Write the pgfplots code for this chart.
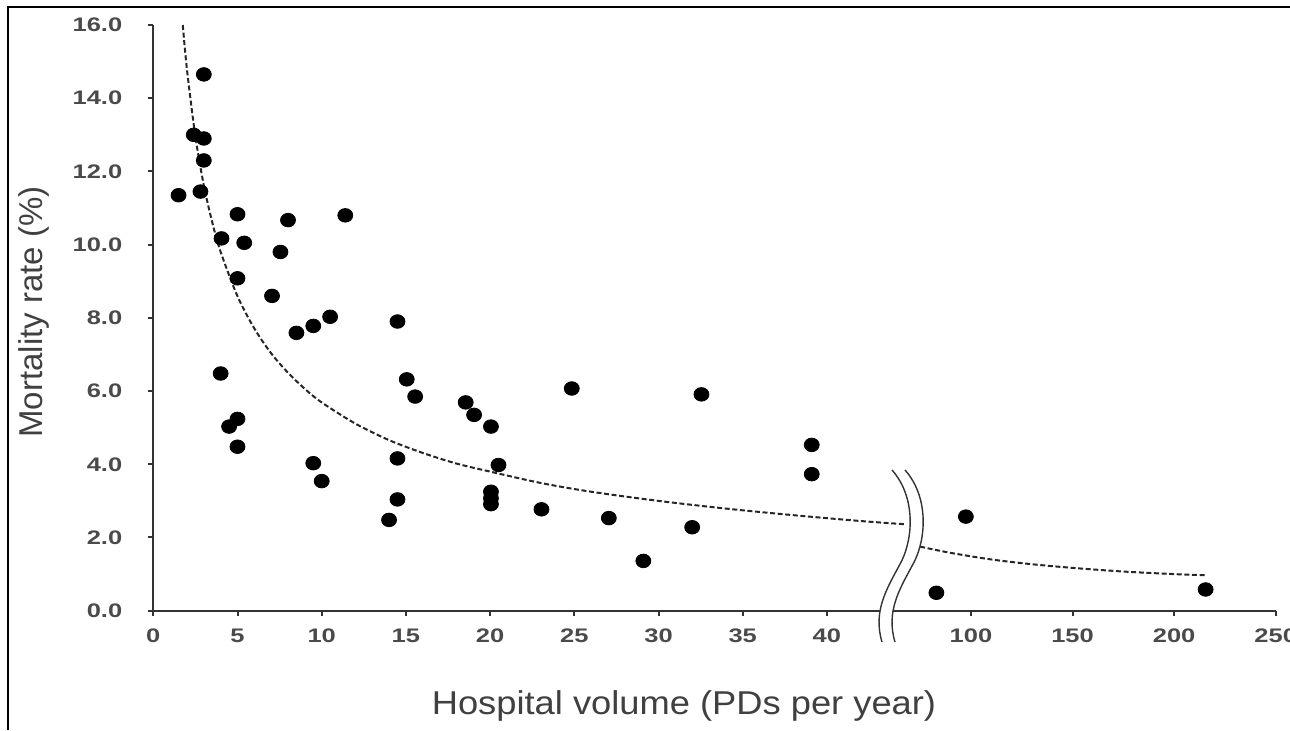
\documentclass[border=0pt]{standalone}
\usepackage{pgfplots}
\pgfplotsset{compat=1.18}
\usepackage{fontspec}
\setmainfont{Liberation Sans}

\definecolor{axisgray}{HTML}{333333}
\definecolor{labgray}{HTML}{4A4A4A}
\definecolor{titlegray}{HTML}{404040}

\pgfplotsset{
  brokenax/.style={
    scale only axis,
    height=292.85pt,
    ymin=0, ymax=16,
    axis x line*=bottom,
    tick align=outside,
    major tick length=2.5pt,
    axis line style={line width=1.1pt, axisgray},
    tick style={line width=1pt, axisgray},
    /pgf/number format/assume math mode=true,
    tick label style={font=\fontsize{9.8}{10}\selectfont\bfseries, labgray, xscale=1.3},
    clip=false,
  },
  dots/.style={only marks, mark=*, mark size=3.4pt, black, mark options={xscale=1.1}},
  fit/.style={no marks, smooth, line width=1pt, black!85, dash pattern=on 2.5pt off 1.3pt},
}

\begin{document}
\begin{tikzpicture}
% left part of the broken x axis (0 to 45)
\begin{axis}[brokenax,
  at={(76.65pt,59.65pt)}, anchor=south west,
  width=378.9pt,
  xmin=0, xmax=45,
  axis y line*=left,
  xtick={0,5,...,40},
  ytick={0,2,...,16},
  yticklabel style={/pgf/number format/fixed, /pgf/number format/fixed zerofill,
    /pgf/number format/precision=1, xshift=-6.5pt},
  xticklabel style={yshift=-3pt},
]
\addplot[fit] coordinates {
  (1.75,16.0) (2,14.78) (2.5,12.95) (3,11.62) (3.5,10.61) (4,9.80) (5,8.59)
  (6,7.71) (7,7.03) (8,6.50) (9,6.06) (10,5.69) (12,5.11) (14,4.66) (16,4.31)
  (18,4.02) (20,3.80) (23,3.49) (26,3.25) (30,3.0) (34,2.79) (38,2.61)
  (42,2.45) (44.7,2.36)
};
\addplot[dots] coordinates {
  (1.5,11.35) (2.4,13.0) (3.0,12.9) (3.0,14.65) (3.0,12.3) (2.8,11.45)
  (5.0,10.83) (8.0,10.67) (11.4,10.8) (4.05,10.17) (5.4,10.05) (7.55,9.8)
  (5.0,9.08) (7.05,8.6) (10.5,8.03) (9.5,7.78) (8.5,7.59) (14.5,7.9)
  (4.0,6.48) (5.0,5.24) (4.5,5.03) (5.0,4.48) (9.5,4.03) (10.0,3.54)
  (14.5,4.16) (14.5,3.04) (14.0,2.48) (15.05,6.32) (15.55,5.85)
  (18.55,5.69) (19.05,5.35) (20.05,5.03) (20.5,3.98) (20.05,3.25)
  (20.05,3.07) (20.05,2.91) (23.05,2.77) (24.85,6.07) (27.05,2.53)
  (29.1,1.36) (32.55,5.91) (32.0,2.28) (39.1,4.53) (39.1,3.73)
};
\end{axis}
% right part of the broken x axis (to 250)
\begin{axis}[brokenax,
  at={(455.5pt,59.65pt)}, anchor=south west,
  width=182.35pt,
  xmin=70.5, xmax=250,
  axis y line=none, ytick=\empty,
  xtick={100,150,200,250},
  xticklabel style={yshift=-3pt},
]
\addplot[fit] coordinates {
  (75,1.75) (90,1.58) (110,1.40) (130,1.27) (150,1.17) (175,1.07)
  (200,1.0) (215,0.97)
};
\addplot[dots] coordinates {
  (83,0.49) (97.5,2.57) (215.5,0.58)
};
\end{axis}
% decorations in pixel units of the reference
\begin{scope}[x=0.5pt, y=-0.5pt, yshift=365pt]
  \fill[white] (892,470) .. controls (916,497) and (914,540) .. (899,566)
    .. controls (886,590) and (873,612) .. (882,642) -- (895,642)
    .. controls (886,612) and (899,590) .. (912,566)
    .. controls (927,540) and (929,497) .. (905,470) -- cycle;
  \draw[line width=0.7pt, black!80] (892,470) .. controls (916,497) and (914,540) .. (899,566)
    .. controls (886,590) and (873,612) .. (882,642);
  \draw[line width=0.7pt, black!80] (905,470) .. controls (929,497) and (927,540) .. (912,566)
    .. controls (899,590) and (886,612) .. (895,642);
  \draw[line width=1pt] (8,730) -- (8,7) -- (1290,7);
  \node[font=\fontsize{16.5}{18}\selectfont, titlegray, xscale=1.1] at (684,706) {Hospital volume (PDs per year)};
  \node[font=\fontsize{16.5}{18}\selectfont, titlegray, rotate=90] at (34,312) {Mortality rate (\%)};
\end{scope}
\pgfresetboundingbox
\path[use as bounding box] (0,0) rectangle (645pt,365pt);
\end{tikzpicture}
\end{document}
